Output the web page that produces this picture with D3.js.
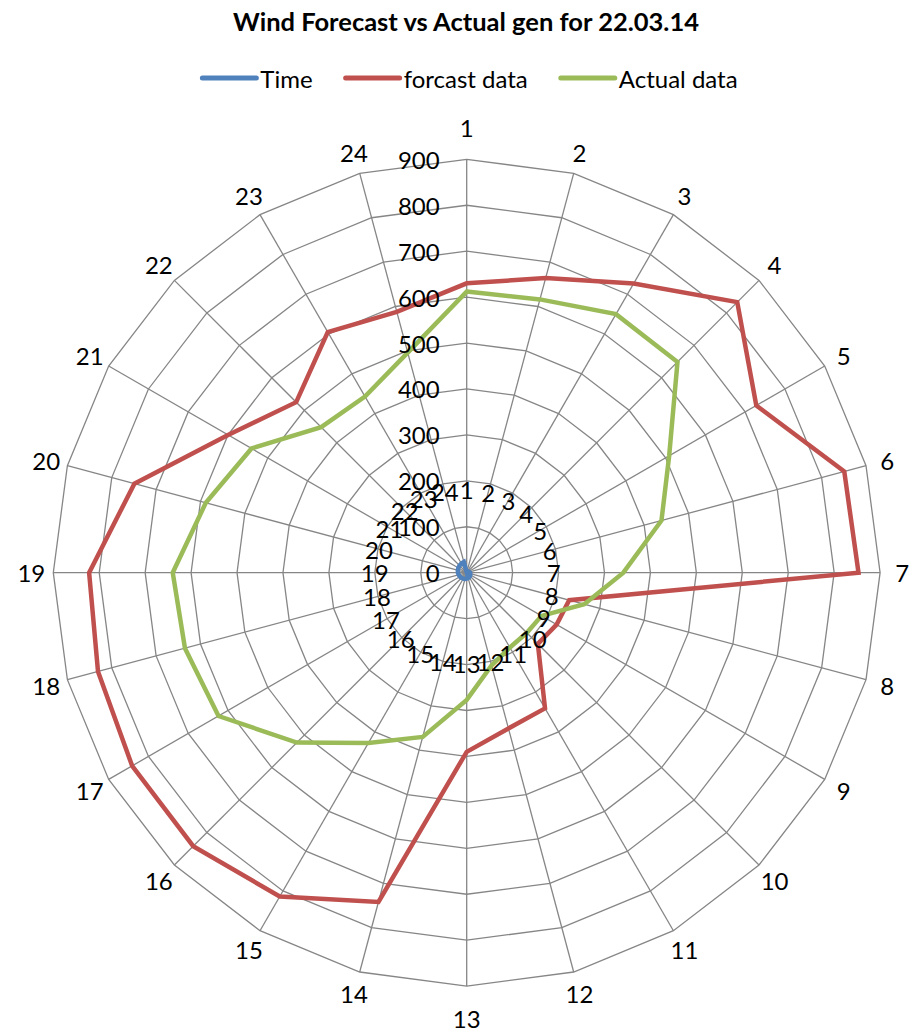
<!DOCTYPE html>
<html>
<head>
<meta charset="utf-8">
<script src="https://cdn.jsdelivr.net/npm/d3@7"></script>
<style>
  html, body { margin: 0; padding: 0; background: #fff; }
  svg { display: block; font-family: Lato, "Open Sans", sans-serif; }
</style>
</head>
<body>
<svg id="chart" width="909" height="1033"></svg>
<script>
// Hours of the day (spokes)
const categories = ["1","2","3","4","5","6","7","8","9","10","11","12",
                    "13","14","15","16","17","18","19","20","21","22","23","24"];
// Series values
const timeValues = [1,2,3,4,5,6,7,8,9,10,11,12,13,14,15,16,17,18,19,20,21,22,23,24];
const forecastValues = [630,664,727,833,728,851,853,231,226,219,341,351,
                        390,742,814,842,841,831,822,749,600,525,605,588];
const actualValues = [612,616,650,649,509,439,341,265,188,185,188,209,
                      277,370,428,523,624,635,640,588,541,448,443,496];
// Radial axis ticks
const axisTicks = [0,100,200,300,400,500,600,700,800,900];

const seriesNames = ["Time", "forcast data", "Actual data"];
const seriesColors = ["#4F81BD", "#C0504D", "#9BBB59"];
const seriesData = [timeValues, forecastValues, actualValues];

const svg = d3.select("#chart");
const cx = 466.7, cy = 572.7, R = 413.4;
const FONT = 24;

const r = d3.scaleLinear().domain([0, 900]).range([0, R]);
const angle = d3.scalePoint().domain(categories)
  .range([0, 2 * Math.PI * (categories.length - 1) / categories.length]);

const g = svg.append("g").attr("transform", `translate(${cx},${cy})`);
const pt = (a, rad) => [rad * Math.sin(a), -rad * Math.cos(a)];

// Grid rings (24-sided polygons)
axisTicks.filter(t => t > 0).forEach(t => {
  g.append("path")
    .attr("d", d3.lineRadial().curve(d3.curveLinearClosed)
      .angle(c => angle(c)).radius(() => r(t))(categories))
    .attr("fill", "none").attr("stroke", "#868686").attr("stroke-width", 1.3);
});

// Spokes
g.selectAll("line.spoke").data(categories).join("line")
  .attr("class", "spoke")
  .attr("x1", 0).attr("y1", 0)
  .attr("x2", c => pt(angle(c), r(900))[0])
  .attr("y2", c => pt(angle(c), r(900))[1])
  .attr("stroke", "#868686").attr("stroke-width", 1.3);

// Series lines
const radial = d3.lineRadial().curve(d3.curveLinearClosed)
  .angle((d, i) => angle(categories[i])).radius(d => r(d));
seriesData.forEach((vals, k) => {
  g.append("path")
    .attr("d", radial(vals))
    .attr("fill", "none")
    .attr("stroke", seriesColors[k])
    .attr("stroke-width", 4.5)
    .attr("stroke-linejoin", "miter");
});

// Outer category labels
const outerR = c => R + 22 + (Math.abs(Math.cos(angle(c))) > 0.99 ? 10 : 0);
g.selectAll("text.cat").data(categories).join("text")
  .attr("class", "cat")
  .attr("x", c => pt(angle(c), outerR(c))[0])
  .attr("y", c => pt(angle(c), outerR(c))[1])
  .attr("text-anchor", "middle").attr("dominant-baseline", "central")
  .attr("font-size", FONT).attr("fill", "#000")
  .text(c => c);

// Radial axis tick labels
g.selectAll("text.tick").data(axisTicks).join("text")
  .attr("class", "tick")
  .attr("x", -27).attr("y", d => -r(d))
  .attr("text-anchor", "end").attr("dominant-baseline", "central")
  .attr("font-size", FONT).attr("fill", "#000")
  .text(d => d);

// Inner hour labels
const innerR = c => 87 - 4 * Math.cos(angle(c)) + (c.length - 1) * 5 * Math.abs(Math.sin(angle(c)));
g.selectAll("text.inner").data(categories).join("text")
  .attr("class", "inner")
  .attr("x", c => pt(angle(c), innerR(c))[0])
  .attr("y", c => pt(angle(c), innerR(c))[1])
  .attr("text-anchor", "middle").attr("dominant-baseline", "central")
  .attr("font-size", FONT).attr("fill", "#000")
  .text(c => c);

// Title
svg.append("text")
  .attr("x", 466).attr("y", 21)
  .attr("text-anchor", "middle").attr("dominant-baseline", "central")
  .attr("font-size", 25.5).attr("font-weight", "bold").attr("fill", "#000")
  .text("Wind Forecast vs Actual gen for 22.03.14");

// Legend
const legend = svg.append("g");
let lx = 0;
seriesNames.forEach((name, k) => {
  const item = legend.append("g").attr("transform", `translate(${lx},0)`);
  item.append("line").attr("x1", 2).attr("x2", 56).attr("y1", 0).attr("y2", 0)
    .attr("stroke", seriesColors[k]).attr("stroke-width", 5)
    .attr("stroke-linecap", "round");
  const t = item.append("text").attr("x", 60).attr("y", 0)
    .attr("dominant-baseline", "central").attr("font-size", FONT).attr("fill", "#000")
    .text(name);
  lx += 60 + t.node().getComputedTextLength() + 31;
});
const legendWidth = lx - 31;
legend.attr("transform", `translate(${469 - legendWidth / 2},78)`);
</script>
</body>
</html>
